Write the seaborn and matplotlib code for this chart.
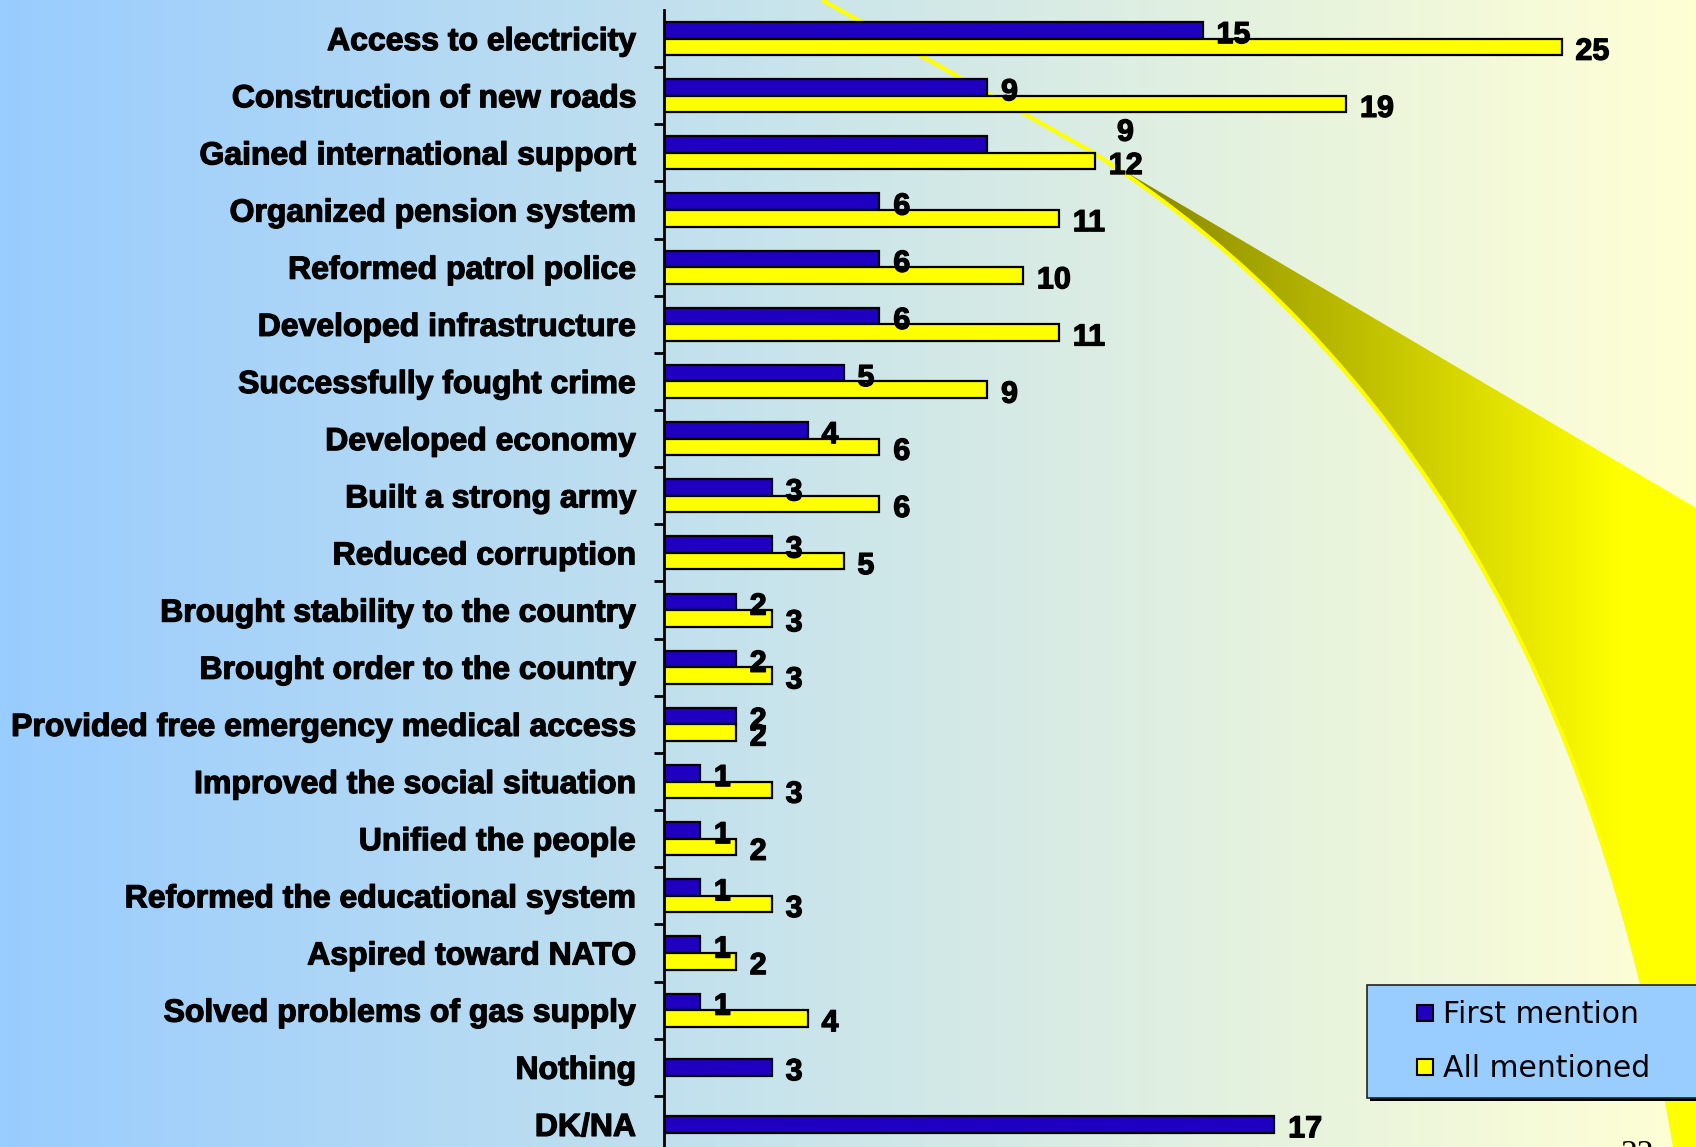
import numpy as np
import pandas as pd
import seaborn as sns
import matplotlib.colors as mcolors
import matplotlib.patheffects as pe
from matplotlib import pyplot as plt
from matplotlib.path import Path
from matplotlib.patches import PathPatch, Rectangle
from matplotlib.lines import Line2D

# Data
items = ["Access to electricity", "Construction of new roads",
         "Gained international support", "Organized pension system",
         "Reformed patrol police", "Developed infrastructure",
         "Successfully fought crime", "Developed economy",
         "Built a strong army", "Reduced corruption",
         "Brought stability to the country", "Brought order to the country",
         "Provided free emergency medical access",
         "Improved the social situation", "Unified the people",
         "Reformed the educational system", "Aspired toward NATO",
         "Solved problems of gas supply", "Nothing", "DK/NA"]
first_mention = [15, 9, 9, 6, 6, 6, 5, 4, 3, 3, 2, 2, 2, 1, 1, 1, 1, 1, 3, 17]
all_mentioned = [25, 19, 12, 11, 10, 11, 9, 6, 6, 5, 3, 3, 2, 3, 2, 3, 2, 4,
                 np.nan, np.nan]
series = ["First mention", "All mentioned"]
page_number = "22"

BLUE = "#2000C0"
YELLOW = "#FFFF00"
BAR_W = 0.58
W, H = 1696, 1147
heavy = [pe.withStroke(linewidth=0.9, foreground="black")]

fig = plt.figure(figsize=(W / 100, H / 100), dpi=100)

# slide background (gradient + yellow swoosh), in pixel coords
bg = fig.add_axes([0, 0, 1, 1], zorder=0)
t = np.linspace(0, 1, 256)
c0 = np.array([153, 204, 255]) / 255
c1 = np.array([255, 255, 212]) / 255
grad = c0[None, None, :] * (1 - t)[None, :, None] + c1[None, None, :] * t[None, :, None]
bg.imshow(grad, extent=(0, W, H, 0), aspect="auto")

sw_path = Path([(1092, 152), (1696, 508), (1696, H), (1675, H),
                (1560, 450), (1092, 152), (1092, 152)],
               [Path.MOVETO, Path.LINETO, Path.LINETO, Path.LINETO,
                Path.CURVE3, Path.CURVE3, Path.CLOSEPOLY])
clip = PathPatch(sw_path, facecolor="none", edgecolor="none", transform=bg.transData)
bg.add_patch(clip)
s = np.clip(np.linspace(-0.05, 1.15, 256), 0, 1)
olive = np.array([0.5, 0.5, 0.0])
yel = np.array([1.0, 1.0, 0.0])
sw_img = olive[None, None, :] * (1 - s)[None, :, None] + yel[None, None, :] * s[None, :, None]
im = bg.imshow(sw_img, extent=(1080, W, H, 140), aspect="auto")
im.set_clip_path(clip)
edge = Path([(822, 0), (1092, 152), (1560, 450), (1675, H)],
            [Path.MOVETO, Path.LINETO, Path.CURVE3, Path.CURVE3])
bg.add_patch(PathPatch(edge, facecolor="none", edgecolor=YELLOW, lw=3))

# legend box
bg.add_patch(Rectangle((1370, 988), 340, 113, facecolor="black", edgecolor="none"))
bg.add_patch(Rectangle((1367, 985), 340, 113, facecolor="#99CCFF",
                       edgecolor="#222222", lw=1.2))
bg.text(1637, 1163, page_number, ha="center", va="baseline", fontsize=24,
        family="Liberation Serif", color="black")
bg.set_xlim(0, W)
bg.set_ylim(H, 0)
bg.set_axis_off()

# chart
ax = fig.add_axes([664 / W, (H - 1153) / H, (W - 664) / W, 1143 / H], zorder=1)
ax.patch.set_alpha(0)

df = pd.DataFrame({"item": items * 2,
                   "series": np.repeat(series, len(items)),
                   "value": first_mention + all_mentioned}).dropna()

sns.barplot(data=df, x="value", y="item", hue="series", hue_order=series,
            order=items, palette=[BLUE, YELLOW], saturation=1, width=BAR_W,
            edgecolor="black", linewidth=1.6, orient="h", errorbar=None,
            legend=False, ax=ax)

off = BAR_W / 4
single = [i for i, v in enumerate(all_mentioned) if np.isnan(v)]
blue_rgba = mcolors.to_rgba(BLUE)
for p in ax.patches:
    yc = p.get_y() + p.get_height() / 2
    if np.allclose(p.get_facecolor(), blue_rgba) and round(yc + off) in single:
        p.set_y(p.get_y() + off)

ax.set_xlim(0, (W - 664) / 35.9)
ax.set_ylim(19.5, -0.5)

num_font = dict(family="Liberation Sans", weight="bold", size=22,
                path_effects=heavy)
for i in range(len(items)):
    yb = i if i in single else i - off
    if i == 2:
        # this label sits above the "All mentioned" label on the slide
        ax.annotate(str(first_mention[i]), xy=(all_mentioned[i], i + off),
                    xytext=(22, 23), textcoords="offset points",
                    ha="center", va="center_baseline", **num_font)
    else:
        ax.annotate(str(first_mention[i]), xy=(first_mention[i], yb),
                    xytext=(10, -1), textcoords="offset points",
                    ha="left", va="center_baseline", **num_font)
    if not np.isnan(all_mentioned[i]):
        ax.annotate(str(int(all_mentioned[i])), xy=(all_mentioned[i], i + off),
                    xytext=(10, -1), textcoords="offset points",
                    ha="left", va="center_baseline", **num_font)

ax.set_yticks(range(len(items)))
ax.set_yticklabels(items, family="Liberation Sans", weight="bold", size=23)
for lab in ax.get_yticklabels():
    lab.set_path_effects(heavy)
ax.set_yticks(np.arange(0.5, len(items) - 1), minor=True)
ax.tick_params(axis="y", which="major", length=0, pad=20)
ax.tick_params(axis="y", which="minor", length=7, width=2, direction="out")
ax.set_ylabel("")
ax.set_xlabel("")
ax.xaxis.set_visible(False)
for side in ["top", "right", "bottom"]:
    ax.spines[side].set_visible(False)
ax.spines["left"].set_linewidth(2)

handles = [Line2D([], [], marker="s", ls="none", markersize=11.5,
                  markerfacecolor=c, markeredgecolor="black", markeredgewidth=1.5)
           for c in [BLUE, YELLOW]]
fig.legend(handles, series, loc="upper left",
           bbox_to_anchor=(1416 / W, 1 - 1000 / H), frameon=False,
           borderpad=0, borderaxespad=0, handlelength=0.6, handletextpad=0.3,
           labelspacing=0.85, prop={"family": "DejaVu Sans", "size": 21.5})

fig.savefig("out.png", dpi=100)
